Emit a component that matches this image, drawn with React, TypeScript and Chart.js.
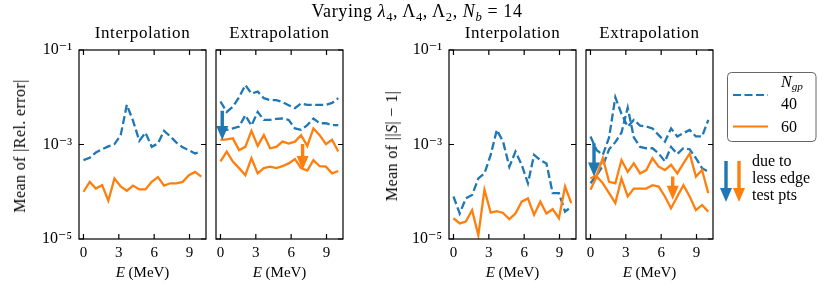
import React, { useEffect, useRef } from "react";
import { Chart, registerables } from "chart.js";

Chart.register(...registerables);

// ---------- data ----------
const energies = [0, 0.53, 1.05, 1.58, 2.11, 2.63, 3.16, 3.68, 4.21, 4.74, 5.26, 5.79, 6.32, 6.84, 7.37, 7.89, 8.42, 8.95, 9.47, 10];
const xTickValues = [0, 3, 6, 9];
const yTickValues = [1e-5, 1e-3, 1e-1];
const yTickLabels = ["10⁻⁵", "10⁻³", "10⁻¹"];
const panelTitles = ["Interpolation", "Extrapolation", "Interpolation", "Extrapolation"];
const seriesNames = ["40", "60"];

// Mean of |Rel. error|, interpolation
const relInterp40 = [4.68e-4, 5.25e-4, 6.76e-4, 7.94e-4, 9.12e-4, 1.02e-3, 1.58e-3, 6.92e-3, 3.16e-3, 1.2e-3, 1.78e-3, 8.91e-4, 1.05e-3, 1.95e-3, 1.48e-3, 1.1e-3, 8.71e-4, 7.59e-4, 6.46e-4, 7.08e-4];
const relInterp60 = [1.0e-4, 1.62e-4, 1.17e-4, 1.38e-4, 6.46e-5, 1.91e-4, 1.29e-4, 1.05e-4, 1.35e-4, 1.12e-4, 1.12e-4, 1.62e-4, 2.04e-4, 1.35e-4, 1.51e-4, 1.51e-4, 1.62e-4, 2.24e-4, 2.63e-4, 2.09e-4];
// Mean of |Rel. error|, extrapolation (two test sets per N_gp)
const relExtrap40a = [8.13e-3, 4.9e-3, 6.31e-3, 1.0e-2, 1.82e-2, 1.2e-2, 1.32e-2, 9.55e-3, 8.71e-3, 8.71e-3, 7.94e-3, 6.76e-3, 5.89e-3, 7.41e-3, 6.92e-3, 6.92e-3, 6.92e-3, 6.92e-3, 7.59e-3, 9.55e-3];
const relExtrap40b = [2.04e-3, 2.04e-3, 2.19e-3, 2.4e-3, 4.17e-3, 2.51e-3, 4.9e-3, 3.31e-3, 3.31e-3, 3.47e-3, 3.55e-3, 3.31e-3, 2.19e-3, 2.04e-3, 2.57e-3, 3.55e-3, 2.82e-3, 2.82e-3, 2.57e-3, 2.57e-3];
const relExtrap60a = [1.26e-3, 1.29e-3, 1.35e-3, 7.59e-4, 8.91e-4, 1.95e-3, 9.33e-4, 1.58e-3, 8.32e-4, 8.91e-4, 1.15e-3, 1.05e-3, 1.15e-3, 1.58e-3, 9.33e-4, 2.19e-3, 1.58e-3, 1.02e-3, 1.26e-3, 7.08e-4];
const relExtrap60b = [4.37e-4, 7.08e-4, 4.37e-4, 3.16e-4, 2.24e-4, 5.13e-4, 2.45e-4, 3.16e-4, 3.39e-4, 3.16e-4, 3.47e-4, 3.98e-4, 4.9e-4, 3.16e-4, 2.82e-4, 4.68e-4, 3.47e-4, 3.39e-4, 2.45e-4, 2.75e-4];
// Mean of ||S|-1|, interpolation
const unitInterp40 = [7.94e-5, 3.47e-5, 7.24e-5, 8.51e-5, 1.91e-4, 2.45e-4, 6.03e-4, 2.04e-3, 1.15e-3, 3.39e-4, 7.08e-4, 3.72e-4, 1.51e-4, 6.03e-4, 4.68e-4, 3.98e-4, 9.33e-5, 9.33e-5, 3.8e-5, 4.79e-5];
const unitInterp60 = [2.75e-5, 2.14e-5, 2.34e-5, 4.07e-5, 1.2e-5, 1.1e-4, 3.63e-5, 3.89e-5, 3.55e-5, 2.63e-5, 3.47e-5, 6.17e-5, 7.24e-5, 3.24e-5, 6.17e-5, 3.47e-5, 4.27e-5, 2.75e-5, 1.29e-4, 5.75e-5];
// Mean of ||S|-1|, extrapolation
const unitExtrap40a = [1.48e-3, 7.59e-4, 6.03e-4, 1.41e-3, 1.0e-2, 4.47e-3, 2.4e-3, 3.31e-3, 2.51e-3, 2.4e-3, 2.19e-3, 1.58e-3, 1.15e-3, 2.19e-3, 1.48e-3, 1.74e-3, 2.04e-3, 1.48e-3, 1.48e-3, 3.31e-3];
const unitExtrap40b = [1.51e-4, 2.24e-4, 3.55e-4, 7.94e-4, 1.12e-3, 1.78e-3, 6.03e-3, 1.41e-3, 8.91e-4, 8.32e-4, 8.32e-4, 6.46e-4, 4.37e-4, 8.91e-4, 6.31e-4, 8.32e-4, 7.94e-4, 5.13e-4, 3.16e-4, 2.63e-4];
const unitExtrap60a = [1.91e-4, 2.24e-4, 5.13e-4, 1.62e-4, 1.51e-4, 4.68e-4, 2.63e-4, 3.98e-4, 2.45e-4, 2.88e-4, 5.13e-4, 3.39e-4, 2.88e-4, 3.72e-4, 2.45e-4, 3.98e-4, 6.46e-4, 2.09e-4, 2.88e-4, 9.33e-5];
const unitExtrap60b = [1.1e-4, 2.09e-4, 1.51e-4, 9.33e-5, 5.75e-5, 1.91e-4, 7.94e-5, 1.17e-4, 1.17e-4, 1.17e-4, 1.38e-4, 1.29e-4, 7.94e-5, 4.47e-5, 7.94e-5, 1.38e-4, 7.94e-5, 4.07e-5, 5.25e-5, 3.8e-5];

// "due to less edge test pts" arrows (panel index, E, from, to, series)
const arrowPanel = [1, 1, 3, 3];
const arrowE = [0.15, 6.97, 0.3, 6.98];
const arrowFrom = [5.19e-3, 1.02e-3, 1.06e-3, 2.09e-4];
const arrowTo = [1.245e-3, 2.88e-4, 2.09e-4, 6.76e-5];
const arrowSeries = [0, 1, 0, 1];

// ---------- styling ----------
const COLORS = ["#1f77b4", "#ff7f0e"];
const FONT = "'Liberation Serif', 'DejaVu Serif', serif";
const H = 298;
const PLOT_TOP = 50;
const PLOT_BOTTOM = 239;

type PanelSpec = {
  canvasLeft: number;
  canvasWidth: number;
  plotLeft: number;
  plotRight: number;
  yLabels: boolean;
  legend: boolean;
  series: { values: number[]; s: number }[];
};

const panels: PanelSpec[] = [
  { canvasLeft: 0, canvasWidth: 212, plotLeft: 79, plotRight: 206, yLabels: true, legend: false,
    series: [{ values: relInterp40, s: 0 }, { values: relInterp60, s: 1 }] },
  { canvasLeft: 210, canvasWidth: 140, plotLeft: 216, plotRight: 343, yLabels: false, legend: false,
    series: [{ values: relExtrap40a, s: 0 }, { values: relExtrap40b, s: 0 }, { values: relExtrap60a, s: 1 }, { values: relExtrap60b, s: 1 }] },
  { canvasLeft: 370, canvasWidth: 212, plotLeft: 449, plotRight: 576, yLabels: true, legend: false,
    series: [{ values: unitInterp40, s: 0 }, { values: unitInterp60, s: 1 }] },
  { canvasLeft: 580, canvasWidth: 250, plotLeft: 586, plotRight: 713, yLabels: false, legend: true,
    series: [{ values: unitExtrap40a, s: 0 }, { values: unitExtrap40b, s: 0 }, { values: unitExtrap60a, s: 1 }, { values: unitExtrap60b, s: 1 }] },
];

function drawArrow(ctx: CanvasRenderingContext2D, x: number, y0: number, y1: number, color: string) {
  const headLen = 14;
  const headW = 12;
  const shaftW = 3.4;
  const dir = y1 > y0 ? 1 : -1;
  const yh = y1 - dir * headLen;
  ctx.fillStyle = color;
  ctx.beginPath();
  ctx.moveTo(x - shaftW / 2, y0);
  ctx.lineTo(x + shaftW / 2, y0);
  ctx.lineTo(x + shaftW / 2, yh);
  ctx.lineTo(x + headW / 2, yh);
  ctx.lineTo(x, y1);
  ctx.lineTo(x - headW / 2, yh);
  ctx.lineTo(x - shaftW / 2, yh);
  ctx.closePath();
  ctx.fill();
}

function makeFramePlugin(panelIndex: number, spec: PanelSpec) {
  return {
    id: "frame" + panelIndex,
    afterDatasetsDraw(chart: any) {
      const { ctx, scales } = chart;
      ctx.save();
      for (let i = 0; i < arrowPanel.length; i++) {
        if (arrowPanel[i] !== panelIndex) continue;
        const x = scales.x.getPixelForValue(arrowE[i]);
        const y0 = scales.y.getPixelForValue(arrowFrom[i]);
        const y1 = scales.y.getPixelForValue(arrowTo[i]);
        drawArrow(ctx, x, y0, y1, COLORS[arrowSeries[i]]);
      }
      ctx.restore();
    },
    afterDraw(chart: any) {
      const { ctx, chartArea, scales } = chart;
      const { left, right, top, bottom } = chartArea;
      ctx.save();
      ctx.strokeStyle = "#000";
      ctx.lineWidth = 1.2;
      ctx.strokeRect(left, top, right - left, bottom - top);
      const tl = 5;
      ctx.beginPath();
      for (const v of xTickValues) {
        const px = scales.x.getPixelForValue(v);
        ctx.moveTo(px, bottom);
        ctx.lineTo(px, bottom - tl);
        ctx.moveTo(px, top);
        ctx.lineTo(px, top + tl);
      }
      for (const v of yTickValues) {
        const py = scales.y.getPixelForValue(v);
        ctx.moveTo(left, py);
        ctx.lineTo(left + tl, py);
        ctx.moveTo(right, py);
        ctx.lineTo(right - tl, py);
      }
      ctx.stroke();

      if (spec.legend) {
        const ox = -spec.canvasLeft;
        // legend frame
        const bx = 727.5 + ox, by = 72.5, bw = 88.5, bh = 69;
        const r = 4;
        ctx.strokeStyle = "#666";
        ctx.lineWidth = 1;
        ctx.beginPath();
        ctx.moveTo(bx + r, by);
        ctx.lineTo(bx + bw - r, by);
        ctx.quadraticCurveTo(bx + bw, by, bx + bw, by + r);
        ctx.lineTo(bx + bw, by + bh - r);
        ctx.quadraticCurveTo(bx + bw, by + bh, bx + bw - r, by + bh);
        ctx.lineTo(bx + r, by + bh);
        ctx.quadraticCurveTo(bx, by + bh, bx, by + bh - r);
        ctx.lineTo(bx, by + r);
        ctx.quadraticCurveTo(bx, by, bx + r, by);
        ctx.stroke();
        // samples
        ctx.lineWidth = 2.2;
        ctx.strokeStyle = COLORS[0];
        ctx.setLineDash([8, 3.5]);
        ctx.beginPath();
        ctx.moveTo(733 + ox, 95);
        ctx.lineTo(768 + ox, 95);
        ctx.stroke();
        ctx.setLineDash([]);
        ctx.strokeStyle = COLORS[1];
        ctx.beginPath();
        ctx.moveTo(733 + ox, 126.5);
        ctx.lineTo(768 + ox, 126.5);
        ctx.stroke();
        // annotation arrows
        drawArrow(ctx, 726 + ox, 161, 202, COLORS[0]);
        drawArrow(ctx, 739 + ox, 161, 202, COLORS[1]);
      }
      ctx.restore();
    },
  };
}

function buildChart(canvas: HTMLCanvasElement, spec: PanelSpec, panelIndex: number) {
  const datasets = spec.series.map((ser) => ({
    data: energies.map((e, i) => ({ x: e, y: ser.values[i] })),
    borderColor: COLORS[ser.s],
    borderWidth: 2.3,
    borderDash: ser.s === 0 ? [8, 3.5] : [],
    pointRadius: 0,
    fill: false,
    tension: 0,
    order: ser.s === 0 ? 2 : 1,
  }));
  const padRight = spec.canvasLeft + spec.canvasWidth - spec.plotRight;
  return new Chart(canvas, {
    type: "line",
    data: { datasets },
    options: {
      responsive: false,
      animation: false,
      devicePixelRatio: 1,
      layout: { padding: { top: PLOT_TOP, right: padRight, bottom: 0, left: 0 } },
      plugins: { legend: { display: false }, tooltip: { enabled: false }, title: { display: false } },
      scales: {
        x: {
          type: "linear",
          min: -0.38,
          max: 10.4,
          grid: { display: false, drawTicks: false },
          border: { display: false },
          ticks: {
            font: { family: FONT, size: 15 },
            color: "#000",
            padding: 5,
            maxRotation: 0,
            autoSkip: false,
            callback: (v: any) => String(v),
          },
          afterBuildTicks: (s: any) => {
            s.ticks = xTickValues.map((v) => ({ value: v }));
          },
          afterFit: (s: any) => {
            s.height = H - PLOT_BOTTOM;
          },
        },
        y: {
          type: "logarithmic",
          min: 1e-5,
          max: 1e-1,
          grid: { display: false, drawTicks: false },
          border: { display: false },
          ticks: {
            display: spec.yLabels,
            font: { family: FONT, size: 16 },
            color: "#000",
            padding: 7,
            autoSkip: false,
            callback: (_v: any, idx: number) => yTickLabels[idx],
          },
          afterBuildTicks: (s: any) => {
            s.ticks = yTickValues.map((v) => ({ value: v }));
          },
          afterFit: (s: any) => {
            s.width = spec.plotLeft - spec.canvasLeft;
          },
        },
      },
    } as any,
    plugins: [makeFramePlugin(panelIndex, spec)],
  });
}

const txt = (extra: React.CSSProperties): React.CSSProperties => ({
  position: "absolute",
  whiteSpace: "nowrap",
  fontFamily: FONT,
  color: "#000",
  lineHeight: 1,
  ...extra,
});

const subStyle: React.CSSProperties = { fontSize: "0.7em", verticalAlign: "-0.3em" };

export default function App() {
  const refs = [useRef<HTMLCanvasElement>(null), useRef<HTMLCanvasElement>(null), useRef<HTMLCanvasElement>(null), useRef<HTMLCanvasElement>(null)];

  useEffect(() => {
    const charts = panels.map((p, i) => buildChart(refs[i].current as HTMLCanvasElement, p, i));
    return () => charts.forEach((c) => c.destroy());
  }, []);

  const centers = panels.map((p) => (p.plotLeft + p.plotRight) / 2);

  return (
    <div style={{ position: "fixed", left: 0, top: 0, width: 830, height: H, background: "#fff", overflow: "hidden" }}>
      {panels.map((p, i) => (
        <canvas
          key={i}
          ref={refs[i]}
          width={p.canvasWidth}
          height={H}
          style={{ position: "absolute", left: p.canvasLeft, top: 0, width: p.canvasWidth, height: H }}
        />
      ))}
      {/* suptitle */}
      <div style={txt({ left: 417, top: 13, fontSize: 18, letterSpacing: 0.6, transform: "translate(-50%,-50%)" })}>
        Varying <i>λ</i><span style={subStyle}>4</span>, Λ<span style={subStyle}>4</span>, Λ<span style={subStyle}>2</span>, <i>N</i><span style={subStyle}><i>b</i></span> = 14
      </div>
      {panelTitles.map((t, i) => (
        <div key={"t" + i} style={txt({ left: centers[i], top: 32, fontSize: 17, letterSpacing: 0.6, transform: "translate(-50%,-50%)" })}>
          {t}
        </div>
      ))}
      {centers.map((c, i) => (
        <div key={"x" + i} style={txt({ left: c, top: 272, fontSize: 15, transform: "translate(-50%,-50%)" })}>
          <i>E</i> (MeV)
        </div>
      ))}
      <div style={txt({ left: 20, top: 146, fontSize: 16, letterSpacing: 0.4, transform: "translate(-50%,-50%) rotate(-90deg)" })}>
        Mean of |Rel. error|
      </div>
      <div style={txt({ left: 392, top: 146, fontSize: 16, letterSpacing: 0.4, transform: "translate(-50%,-50%) rotate(-90deg)" })}>
        Mean of ||<i>S</i>| − 1|
      </div>
      {/* legend text */}
      <div style={txt({ left: 781, top: 83, fontSize: 16, transform: "translateY(-50%)" })}>
        <i>N</i><span style={subStyle}><i>gp</i></span>
      </div>
      <div style={txt({ left: 781, top: 103.5, fontSize: 16, transform: "translateY(-50%)" })}>{seriesNames[0]}</div>
      <div style={txt({ left: 781, top: 127, fontSize: 16, transform: "translateY(-50%)" })}>{seriesNames[1]}</div>
      {/* annotation */}
      {["due to", "less edge", "test pts"].map((t, i) => (
        <div key={"a" + i} style={txt({ left: 752, top: 161 + i * 17, fontSize: 16, transform: "translateY(-50%)" })}>
          {t}
        </div>
      ))}
    </div>
  );
}
